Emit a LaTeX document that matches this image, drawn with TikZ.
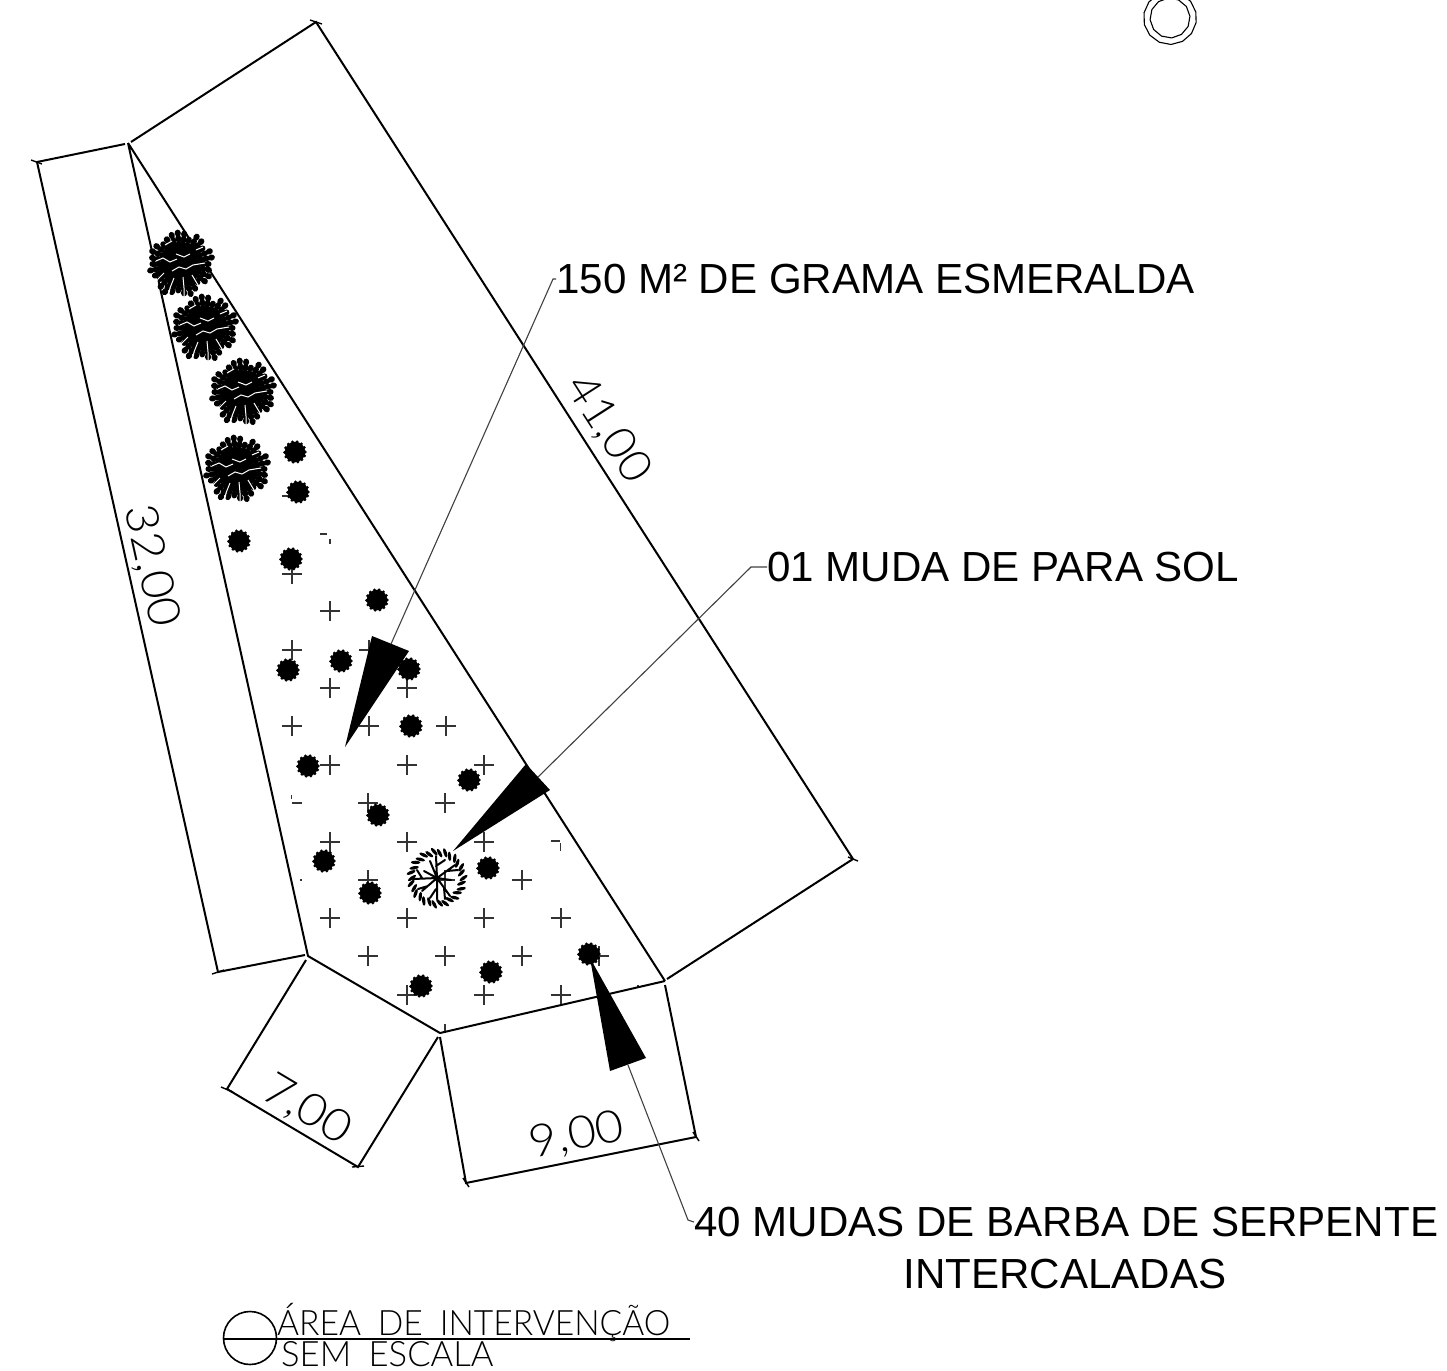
\documentclass[tikz,border=0pt]{standalone}
\usepackage{fontspec}
\setmainfont{Liberation Sans}
\newfontfamily\thinfont{Lato Light}
\tikzset{
  edge/.style={line width=2pt,black},
  leader/.style={line width=1.1pt,black!75},
  wedge/.style={fill=black,draw=none},
  label/.style={inner sep=0pt,font=\fontsize{42.1}{50}\selectfont},
  dimtxt/.style={inner sep=0pt,font=\thinfont\fontsize{45}{50}\selectfont},
  titletxt/.style={inner sep=0pt,anchor=base west,font=\thinfont\fontsize{35}{40}\selectfont},
  crossmark/.pic={\draw[line width=1.2pt,black!80] (-10,0)--(10,0) (0,-10)--(0,10);},
  shrub/.pic={
    \fill[black] (0,0) circle[radius=10.3pt];
    \foreach \a in {0,26,...,340}{\fill[black] (\a:10.3pt) circle[radius=1.6pt];}
  },
  clump/.pic={
    \fill[black] (0,0) circle[radius=9pt];
    \foreach \a/\r in {-180/28,-168/31,-156/28,-144/25,-132/30,-120/32,-108/29,-96/26,-84/29,-72/31,-60/28,-48/24,-36/29,-24/30,-12/28,0/27,12/31,24/31,36/26,48/30,60/31,72/25,84/30,96/31,108/30,120/28,132/26,144/30,156/31,168/29}{
      \foreach \d in {0,5.5,...,22}{
        \fill[black,shift={(\a:\r pt-\d pt)},rotate=\a] (0,0) ellipse[x radius=3.6pt,y radius=3.1pt];
      }
    }
    \begin{scope}[white,line width=1pt]
    \draw (-25,-3) -- (-18,-6) -- (-11,-2) -- (-4,-5);
    \draw (-9,7) -- (-2,3) -- (5,5) -- (12,1) -- (24,-1);
    \draw (-5,-10) -- (3,-7) -- (9,-10);
    \draw (-17,9) -- (-23,15) -- (-28,23);
    \draw (-7,14) -- (-11,24) -- (-13,35);
    \draw (2,13) -- (3,24) -- (3,36);
    \draw (11,11) -- (17,21) -- (22,31);
    \draw (15,-14) -- (22,-17);
    \draw (-16,-19) -- (-9,-23);
    \end{scope}
  },
  treepic/.pic={
    \foreach \a in {0,24,...,336}{
      \fill[black,shift={(\a:26.5pt)},rotate=\a+35] (0,0) ellipse[x radius=4.8pt,y radius=1.7pt];
    }
    \foreach \a in {12,36,...,348}{
      \fill[black,shift={(\a:25pt)},rotate=\a+35] (0,0) ellipse[x radius=4.8pt,y radius=1.7pt];
    }
    \draw[black,line width=2pt,line cap=round]
      (0,0)--(-1,-22) (-1,-12)--(8,-18)
      (0,0)--(18,-13) (10,-7)--(21,-8)
      (0,0)--(14,2) 
      (0,0)--(13,18) (7,10)--(8,21)
      (0,0)--(0,21) (-1,11)--(-7,20)
      (0,0)--(-15,13) (-9,8)--(-19,11)
      (0,0)--(-24,1) (-15,0)--(-20,-8)
      (0,0)--(-13,-7) (0,0)--(-7,-17);
  }
}
\begin{document}
\begin{tikzpicture}[x=1pt,y=-1pt]
\useasboundingbox (0,0) rectangle (1447,1370);
% corners
\coordinate (A) at (128,143);
\coordinate (B) at (665,981);
\coordinate (C) at (440,1033);
\coordinate (D) at (308,956);
\coordinate (dT) at (316,22);
\coordinate (dR) at (853,859);
\coordinate (dL) at (37,162);
\coordinate (dB) at (218,972);
\coordinate (e1) at (227,1089);
\coordinate (e2) at (358,1167);
\coordinate (f1) at (466,1183);
\coordinate (f2) at (696,1137);
% crosses
\foreach \cx/\cy in {292/574,330/611,292/650,369/650,330/688,407/688,292/726,369/726,446/726,330/765,407/765,484/765,368/803,445/803,330/842,407/842,484/842,368/880,445/880,522/880,330/918,407/918,484/918,561/918,368/956,445/956,522/956,599/956,407/995,484/995,561/995}{
  \pic at (\cx,\cy) {crossmark};
}
\draw[line width=1.2pt,black!80] (320,534)--(327,534) (330,539)--(330,544)
  (291.7,795)--(291.7,799) (292,803)--(302,803)
  (551,841)--(560,841) (560.5,843)--(560.5,851)
  (282,496)--(292,496) (445,1024)--(445,1033) (300,880)--(302,880) (637,986)--(639,986);
% outline
\draw[edge,line join=round] (A)--(B) (A)--(D)--(C)--(B);
\draw[edge] (131,142)--(dT)--(dR)--(667,979);
\draw[edge] (125,144)--(dL)--(dB)--(305,955);
\draw[edge] (306,960)--(e1)--(e2)--(438,1037);
\draw[edge] (440,1037)--(f1)--(f2)--(665,985);
% end ticks
\draw[edge,line width=1.4pt] (310,20)--(322,24) (31,160)--(42,164) (848,857)--(858,861)
  (212,974)--(224,970) (221,1087)--(233,1092) (352,1167)--(364,1166) (463,1178)--(469,1187) (693,1132)--(699,1141);
% vegetation
\foreach \cx/\cy in {181/264,205/328,243/392,237/469}{\pic at (\cx,\cy) {clump};}
\foreach \cx/\cy in {295/452,298/492,239/541,291/559,377/600,341/661,288/670,409/669,411/726,308/766,469/780,378/815,324/861,488/868,370/893,589/954,491/972,421/986}{\pic at (\cx,\cy) {shrub};}
\pic at (437,878) {treepic};
% top-right ring
\draw[line width=1.1pt] plot[samples=14,domain=10:347] ({1170+26.5*cos(\x)},{18+26.5*sin(\x)}) -- cycle;
\draw[line width=1.1pt] plot[samples=12,domain=25:355] ({1170+20*cos(\x)},{18+20*sin(\x)}) -- cycle;
% labels
\node[label,anchor=west] (t1) at (556,279) {150 M² DE GRAMA ESMERALDA};
\node[label,anchor=west] (t2) at (767,567) {01 MUDA DE PARA SOL};
\node[label,anchor=west] (t3) at (694,1222) {40 MUDAS DE BARBA DE SERPENTE};
\node[label] (t4) at (1065,1274) {INTERCALADAS};
% wedges and leaders
\coordinate (w1a) at (372,636); \coordinate (w1b) at (409,651); \coordinate (w1t) at (345,747); \coordinate (w1m) at (391,644);
\coordinate (w2a) at (526,764); \coordinate (w2b) at (550,790); \coordinate (w2t) at (453,851); \coordinate (w2m) at (538,777);
\coordinate (w3a) at (610,1071); \coordinate (w3b) at (646,1058); \coordinate (w3t) at (590,958); \coordinate (w3m) at (628,1065);
\draw[leader] (t1.west)--++(-3,0)--(w1m);
\draw[leader] (t2.west)--++(-16,0)--(w2m);
\draw[leader] (t3.west)--++(-6,-2)--(w3m);
\fill[wedge] (w1t)--(w1a)--(w1b)--cycle;
\fill[wedge] (w2t)--(w2a)--(w2b)--cycle;
\fill[wedge] (w3t)--(w3a)--(w3b)--cycle;
% dimensions
\node[dimtxt,rotate=-57.3,xscale=1.04] (d41) at (608,429) {41,00};
\node[dimtxt,rotate=-77.4,xscale=1.08] (d32) at (151,566) {32,00};
\node[dimtxt,rotate=-30.8,xscale=1.08] (d7) at (307,1110) {7,00};
\node[dimtxt,rotate=11.3,xscale=1.08] (d9) at (577,1136) {9,00};
% title
\draw[line width=1.6pt] (250,1338) circle[radius=26.5pt];
\draw[line width=1.6pt] (224,1339)--(690,1339);
\node[titletxt,xscale=.96] (tt1) at (277,1335) {ÁREA\hspace{8pt} DE\hspace{8pt} INTERVENÇÃO};
\node[titletxt,xscale=.99] (tt2) at (281,1366.5) {SEM\hspace{8pt} ESCALA};
\end{tikzpicture}
\end{document}
